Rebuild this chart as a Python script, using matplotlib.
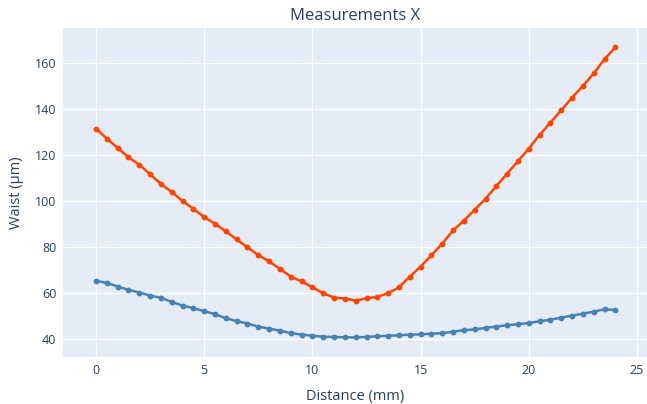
import matplotlib
matplotlib.use("Agg")
import matplotlib.pyplot as plt
import numpy as np

distance = [i * 0.5 for i in range(49)]

waist_orange = [131.5, 127.1, 123.1, 119.0, 115.8, 111.6, 107.4, 103.9, 100.0, 96.6,
                93.0, 90.1, 86.8, 83.3, 79.8, 76.5, 73.7, 70.5, 67.1, 65.0,
                62.5, 59.9, 58.0, 57.6, 56.7, 57.7, 58.3, 59.9, 62.5, 67.1,
                71.5, 76.4, 81.5, 87.2, 91.5, 96.2, 101.0, 106.5, 111.9, 117.4,
                122.8, 128.8, 134.1, 139.5, 145.0, 150.1, 155.5, 161.7, 166.9]

waist_blue = [65.3, 64.4, 62.8, 61.4, 60.2, 58.9, 57.9, 56.1, 54.5, 53.4,
              52.1, 50.8, 49.0, 47.8, 46.7, 45.4, 44.5, 43.6, 42.6, 41.9,
              41.4, 41.0, 40.9, 40.7, 40.7, 40.9, 41.2, 41.4, 41.6, 41.9,
              42.0, 42.3, 42.5, 43.2, 43.8, 44.2, 44.8, 45.4, 46.0, 46.4,
              47.0, 47.7, 48.4, 49.3, 50.2, 51.0, 51.9, 52.9, 52.6]

x_ticks = [0, 5, 10, 15, 20, 25]
y_ticks = [40, 60, 80, 100, 120, 140, 160]

title = "Measurements X"
x_label = "Distance (mm)"
y_label = "Waist (µm)"

plt.rcParams['font.family'] = ['Open Sans', 'DejaVu Sans']
text_color = '#2a3f5f'

fig = plt.figure(figsize=(6.47, 4.04), dpi=100)
ax = fig.add_axes([63.3 / 647, (404 - 356.7) / 404, (647 - 63.3) / 647, (356.7 - 28.3) / 404])
ax.set_facecolor('#E5ECF6')

ax.plot(distance, waist_blue, color='#4682B4', lw=1.8, marker='o', ms=3.2, zorder=3)
ax.plot(distance, waist_orange, color='#FF4500', lw=1.8, marker='o', ms=3.2, zorder=3)

ax.set_xlim(-1.51, 25.46)
ax.set_ylim(32.3, 175.1)
ax.set_xticks(x_ticks)
ax.set_yticks(y_ticks)
ax.grid(True, color='white', lw=1.0)
ax.set_axisbelow(True)
for s in ax.spines.values():
    s.set_visible(False)
ax.tick_params(length=0, labelsize=9, labelcolor=text_color, pad=5)

ax.set_title(title, fontsize=12, color=text_color, pad=6)
ax.set_xlabel(x_label, fontsize=10.5, color=text_color, labelpad=9)
ax.set_ylabel(y_label, fontsize=10.5, color=text_color, labelpad=8)

fig.savefig("out.png", dpi=100)
